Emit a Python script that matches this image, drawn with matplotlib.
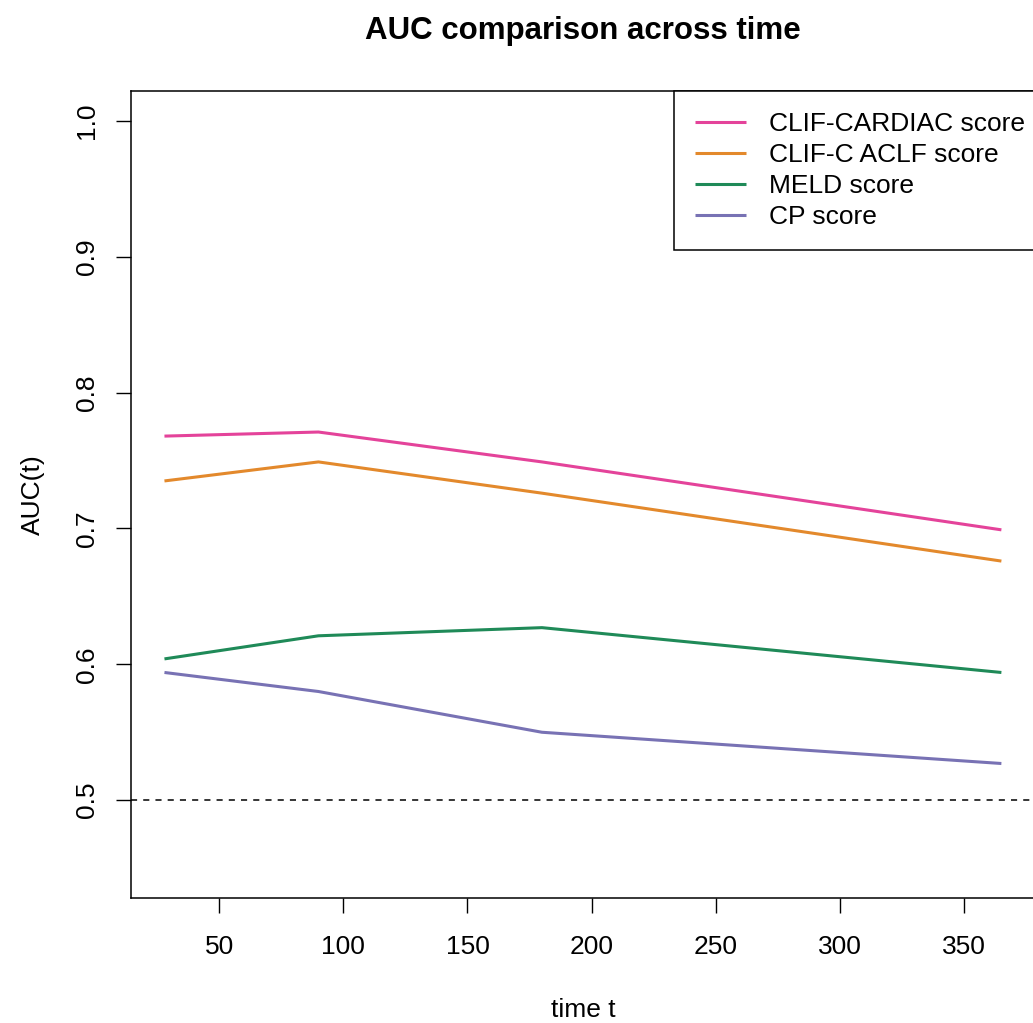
import matplotlib
matplotlib.use("Agg")
import matplotlib.pyplot as plt

# AUC(t) values
times = [28, 90, 180, 365]
clif_cardiac = [0.768, 0.771, 0.749, 0.699]
clif_c_aclf = [0.735, 0.749, 0.726, 0.676]
meld = [0.604, 0.621, 0.627, 0.594]
cp = [0.594, 0.580, 0.550, 0.527]

labels = ["CLIF-CARDIAC score", "CLIF-C ACLF score", "MELD score", "CP score"]
colors = ["#E4439A", "#E3892C", "#1F8A58", "#7872B4"]
x_ticks = [50, 100, 150, 200, 250, 300, 350]
y_ticks = [0.5, 0.6, 0.7, 0.8, 0.9, 1.0]

plt.rcParams["font.family"] = ["Liberation Sans", "DejaVu Sans"]

fig = plt.figure(figsize=(10.33, 10.23), dpi=100)
# R-style plot region; right edge sits just past the image border
ax = fig.add_axes([0.1268, 0.1222, 0.875, 0.7888])

for series, lab, col in zip([clif_cardiac, clif_c_aclf, meld, cp], labels, colors):
    ax.plot(times, series, color=col, lw=2.2, label=lab, solid_capstyle="butt")

ax.axhline(0.5, color="black", lw=1.1, linestyle=(0, (4, 4)))

# R default 4% expansion
xr = times[-1] - times[0]
ax.set_xlim(times[0] - 0.04 * xr, times[-1] + 0.04 * xr)
ax.set_ylim(0.45 - 0.022, 1.0 + 0.022)

ax.set_xticks(x_ticks)
ax.set_yticks(y_ticks)
ax.set_yticklabels([f"{v:.1f}" for v in y_ticks], rotation=90, va="center")
ax.tick_params(axis="both", direction="out", length=11, width=1.0,
               labelsize=19, pad=16)
ax.tick_params(axis="y", pad=12)

for sp in ax.spines.values():
    sp.set_linewidth(1.1)

ax.set_title("AUC comparison across time", fontsize=22.5, fontweight="bold",
             pad=0, y=1.0 + 52 / 807)
ax.set_xlabel("time t", fontsize=19, labelpad=28)
ax.set_ylabel("AUC(t)", fontsize=19, labelpad=22)

leg = ax.legend(loc="upper right", bbox_to_anchor=(1.0 + 11 / 900, 1.0),
                borderaxespad=0, fancybox=False,
                edgecolor="black", framealpha=1, fontsize=19,
                handlelength=1.95, handletextpad=0.85, labelspacing=0.26,
                borderpad=0.8)
leg.get_frame().set_linewidth(1.1)

fig.savefig("out.png", dpi=100)
